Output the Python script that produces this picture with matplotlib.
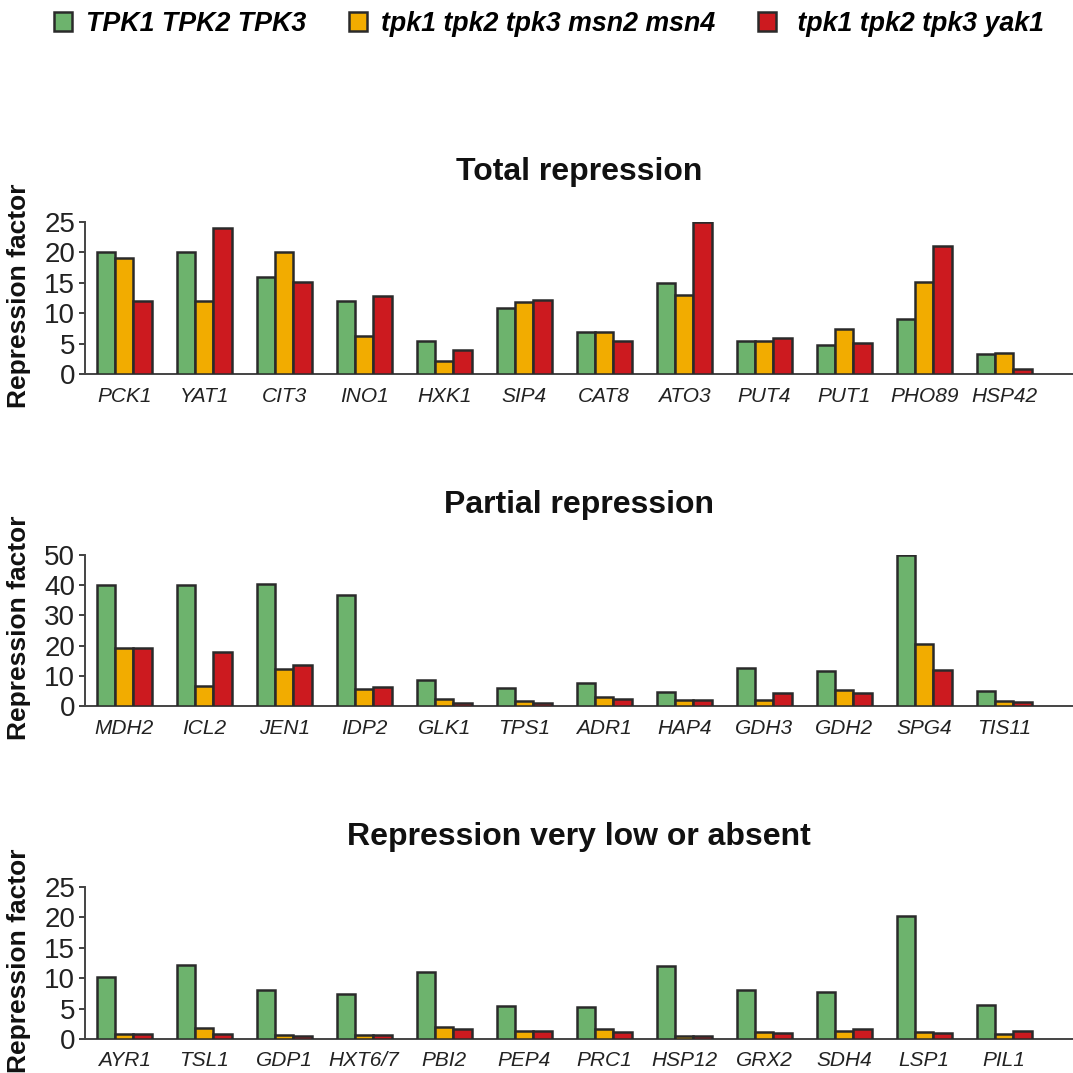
import numpy as np
import matplotlib
matplotlib.use('Agg')
import matplotlib.pyplot as plt
from matplotlib.patches import Patch

plt.rcParams['font.family'] = ['Liberation Sans', 'DejaVu Sans']

# Data
series_names = ['TPK1 TPK2 TPK3', 'tpk1 tpk2 tpk3 msn2 msn4', ' tpk1 tpk2 tpk3 yak1']
colors = ['#6db36d', '#f2ac00', '#cc1a1f']

total_genes = ['PCK1', 'YAT1', 'CIT3', 'INO1', 'HXK1', 'SIP4',
               'CAT8', 'ATO3', 'PUT4', 'PUT1', 'PHO89', 'HSP42']
total_wt   = [20.0, 20.0, 16.0, 12.0, 5.4, 10.9, 6.9, 15.0, 5.35, 4.7, 9.1, 3.3]
total_msn  = [19.0, 12.0, 20.0, 6.3, 2.2, 11.8, 6.9, 13.0, 5.35, 7.4, 15.1, 3.4]
total_yak  = [12.0, 24.0, 15.2, 12.9, 4.0, 12.1, 5.5, 25.0, 6.0, 5.1, 21.1, 0.9]

partial_genes = ['MDH2', 'ICL2', 'JEN1', 'IDP2', 'GLK1', 'TPS1',
                 'ADR1', 'HAP4', 'GDH3', 'GDH2', 'SPG4', 'TIS11']
partial_wt  = [40.0, 40.0, 40.4, 36.9, 8.5, 5.8, 7.6, 4.6, 12.5, 11.5, 50.0, 5.0]
partial_msn = [19.2, 6.6, 12.4, 5.5, 2.3, 1.7, 3.0, 2.1, 2.1, 5.2, 20.6, 1.7]
partial_yak = [19.2, 17.9, 13.7, 6.3, 1.1, 1.0, 2.2, 2.1, 4.2, 4.4, 11.9, 1.4]

low_genes = ['AYR1', 'TSL1', 'GDP1', 'HXT6/7', 'PBI2', 'PEP4',
             'PRC1', 'HSP12', 'GRX2', 'SDH4', 'LSP1', 'PIL1']
low_wt  = [10.2, 12.1, 8.1, 7.4, 11.1, 5.4, 5.3, 12.0, 8.1, 7.7, 20.2, 5.6]
low_msn = [0.9, 1.8, 0.6, 0.65, 1.9, 1.3, 1.65, 0.55, 1.2, 1.3, 1.2, 0.9]
low_yak = [0.9, 0.9, 0.5, 0.6, 1.6, 1.25, 1.1, 0.5, 1.0, 1.6, 1.0, 1.25]

panels = [
    ('Total repression', total_genes, [total_wt, total_msn, total_yak], 25, 5),
    ('Partial repression', partial_genes, [partial_wt, partial_msn, partial_yak], 50, 10),
    ('Repression very low or absent', low_genes, [low_wt, low_msn, low_yak], 25, 5),
]

W = 1073
fig = plt.figure(figsize=(10.73, 10.73), dpi=100)

# axes placed in pixel terms: (top, bottom)
rows = [(222, 374), (555, 706), (887, 1039)]
left_px = 85
edge = '#2a2a2a'
bw = 0.23

for (title, genes, vals, ymax, ystep), (top, bot) in zip(panels, rows):
    ax = fig.add_axes([left_px / W, 1 - bot / W, 1 - left_px / W, (bot - top) / W])
    x = np.arange(len(genes))
    for i, v in enumerate(vals):
        ax.bar(x + (i - 1) * bw, v, bw, color=colors[i], edgecolor=edge,
               linewidth=1.8, zorder=3)
    ax.set_xlim(-0.49, 11.86)
    ax.set_ylim(0, ymax)
    ax.set_yticks(np.arange(0, ymax + 1, ystep))
    ax.set_xticks(x)
    ax.set_xticklabels(genes, fontstyle='italic', fontsize=15, color='#222222')
    ax.tick_params(axis='x', length=0, pad=9)
    ax.tick_params(axis='y', length=4, width=1.3, pad=3, labelsize=20,
                   color='#333333', labelcolor='#222222')
    for s in ['top', 'right']:
        ax.spines[s].set_visible(False)
    for s in ['left', 'bottom']:
        ax.spines[s].set_color('#444444')
        ax.spines[s].set_linewidth(1.4)
    ax.set_ylabel('Repression factor', fontsize=19, fontweight='bold', color='#111111')
    ax.yaxis.set_label_coords(-54 / (W - left_px), 0.515)
    ax.text(0.5, 1 + 50 / (bot - top), title, transform=ax.transAxes,
            ha='center', va='center', fontsize=23, fontweight='bold', color='#111111')

handles = [Patch(facecolor=c, edgecolor=edge, linewidth=1.8) for c in colors]
fig.legend(handles, series_names, loc='center left', bbox_to_anchor=(0.05, 1 - 24 / W),
           ncol=3, frameon=False, handlelength=0.67, handleheight=0.67,
           handletextpad=0.52, columnspacing=1.6, borderpad=0, borderaxespad=0,
           prop={'size': 19.3, 'weight': 'bold', 'style': 'italic'})

fig.savefig('out.png', dpi=100)
